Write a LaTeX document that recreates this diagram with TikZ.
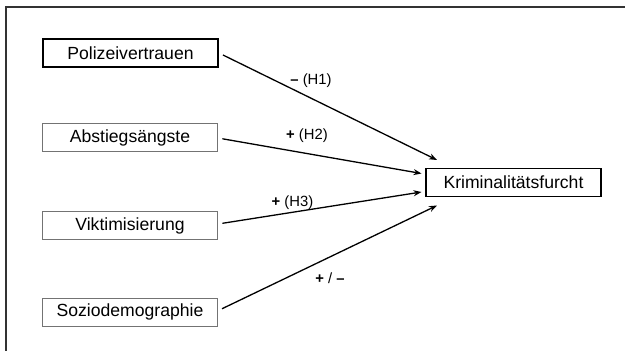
\documentclass[tikz,border=0pt]{standalone}
\usepackage{fontspec}
\setmainfont{Liberation Sans}
\usetikzlibrary{arrows.meta}

\tikzset{
  factor/.style={draw=black!55, line width=0.9pt, minimum width=175pt, minimum height=28pt,
    inner sep=0pt, font=\fontsize{17.6}{20}\selectfont},
  keyfactor/.style={factor, draw=black, line width=1.8pt},
  path/.style={draw=black, line width=1.3pt, shorten <=4.5pt,
    -{Stealth[length=8pt,width=6pt]}},
  hyp/.style={font=\fontsize{14.8}{17}\selectfont, inner sep=0pt},
  frameline/.style={draw=black!80, line width=1.6pt}
}

\begin{document}
\begin{tikzpicture}[x=1pt, y=-1pt]
  \useasboundingbox (0,0) rectangle (625,351);

  % open frame: top and left edges only
  \coordinate (fbl) at (6,351);
  \coordinate (ftl) at (6,7);
  \coordinate (ftr) at (625,7);
  \draw[frameline] (fbl) -- (ftl) -- (ftr);

  % predictors
  \node[keyfactor] (pol) at (130.5,53)  {Polizeivertrauen};
  \node[factor]    (abs) at (130,137.5) {Abstiegsängste};
  \node[factor]    (vik) at (130,225.5) {Viktimisierung};
  \node[factor]    (soz) at (130,312)   {Soziodemographie};

  % outcome
  \node[keyfactor] (krf) at (513.5,182.5) {Kriminalitätsfurcht};

  % arrow tips, stopping short of the outcome box
  \coordinate (t1) at (437,160);
  \coordinate (t2) at (421.5,173.5);
  \coordinate (t3) at (421.5,192);
  \coordinate (t4) at (437,205.5);

  \draw[path] (pol.east) -- (t1);
  \draw[path] ([yshift=-0.5pt]abs.east) -- (t2);
  \draw[path] ([yshift=1.5pt]vik.east) -- (t3);
  \draw[path] ([yshift=1.3pt]soz.east) -- (t4);

  % hypothesis labels
  \node[hyp] (h1) at (311,81)    {\textbf{–} (H1)};
  \node[hyp] (h2) at (307,136)   {\textbf{+} (H2)};
  \node[hyp] (h3) at (292.5,202.5) {\textbf{+} (H3)};
  \node[hyp] (h4) at (330,278)   {\textbf{+} / \textbf{–}};
\end{tikzpicture}
\end{document}
